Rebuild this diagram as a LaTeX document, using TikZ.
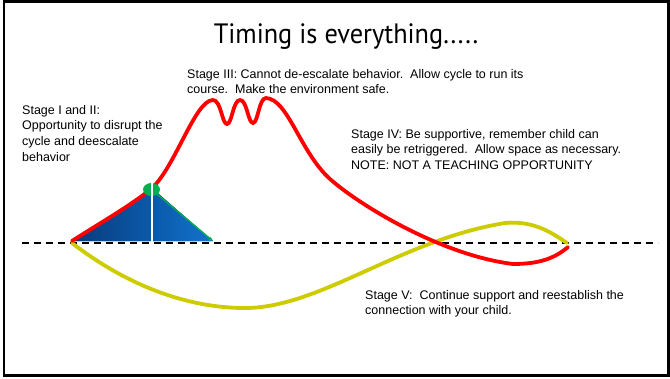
\documentclass[tikz,border=0pt]{standalone}
\usepackage{fontspec}
\setmainfont{Liberation Sans}
\newfontfamily\titlefont{PT Sans}
\usetikzlibrary{arrows.meta,shapes.geometric}

\definecolor{cycred}{RGB}{255,0,0}
\definecolor{cycyellow}{RGB}{204,204,0}
\definecolor{cycgreen}{RGB}{0,176,80}
\definecolor{navy}{RGB}{10,58,122}
\definecolor{midblue}{RGB}{10,90,170}
\definecolor{lightblue}{RGB}{20,115,205}

\begin{document}
\begin{tikzpicture}[x=1pt, y=-1pt,
    note/.style = {anchor=north west, align=left, inner sep=0pt, font=\fontsize{12.5}{15.7}\selectfont},
    curve/.style = {line width=3.8pt, line cap=round}]
    \useasboundingbox (0,0) rectangle (670,378);
    \draw[line width=2.2pt] (4,1.5) rectangle (668.5,375.5);

    \node[anchor=base, inner sep=0pt, xscale=0.94] (title) at (346,43) {\titlefont\fontsize{28}{30}\selectfont Timing is everything.....};

    % shaded wedge under the first rise
    \fill[left color=navy, right color=midblue] (72,241) .. controls (100,223) and (130,206) .. (151,189) -- (151,241) -- cycle;
    \fill[left color=midblue, right color=lightblue] (153,189) -- (213,241) -- (153,241) -- cycle;

    % baseline
    \draw[line width=1.6pt, dash pattern=on 7pt off 5pt] (22,243) -- (658,243);

    % stage V loop
    \draw[curve, cycyellow] (72,243) .. controls (120,280) and (180,308) .. (245,308)
        .. controls (320,308) and (400,240) .. (505,223)
        .. controls (535,220) and (555,235) .. (567,243);

    % escalation cycle
    \draw[curve, cycred] (72,241) .. controls (100,223) and (130,206) .. (151,189)
        .. controls (175,168) and (195,100) .. (213,100)
        .. controls (221,100) and (222,124) .. (227,124)
        .. controls (232,124) and (233,100) .. (240,100)
        .. controls (247,100) and (248,123) .. (253,123)
        .. controls (258,123) and (259,98) .. (266,98)
        .. controls (288,99) and (300,152) .. (330,179)
        .. controls (358,204) and (440,255) .. (513,264)
        .. controls (540,264) and (555,258) .. (568,247);

    \node[fill=cycgreen, ellipse, minimum width=17pt, minimum height=13pt, inner sep=0pt] (peak) at (151.5,189.5) {};
    \coordinate (wedge) at (213,241);
    \draw[cycgreen, line width=1.3pt, -{Stealth[length=5pt]}] (peak) -- (wedge);
    \draw[white, line width=1.6pt] (152,183) -- (152,241);

    \node[note] (stageI) at (22,105) {Stage I and II:\\Opportunity to disrupt the\\cycle and deescalate\\behavior};
    \node[note] (stageIII) at (187,69) {Stage III: Cannot de-escalate behavior.\ \ Allow cycle to run its\\course.\ \ Make the environment safe.};
    \node[note] (stageIV) at (351,129) {Stage IV: Be supportive, remember child can\\easily be retriggered.\ \ Allow space as necessary.\\NOTE: NOT A TEACHING OPPORTUNITY};
    \node[note] (stageV) at (365,290) {Stage V:\ \ Continue support and reestablish the\\connection with your child.};
\end{tikzpicture}
\end{document}
